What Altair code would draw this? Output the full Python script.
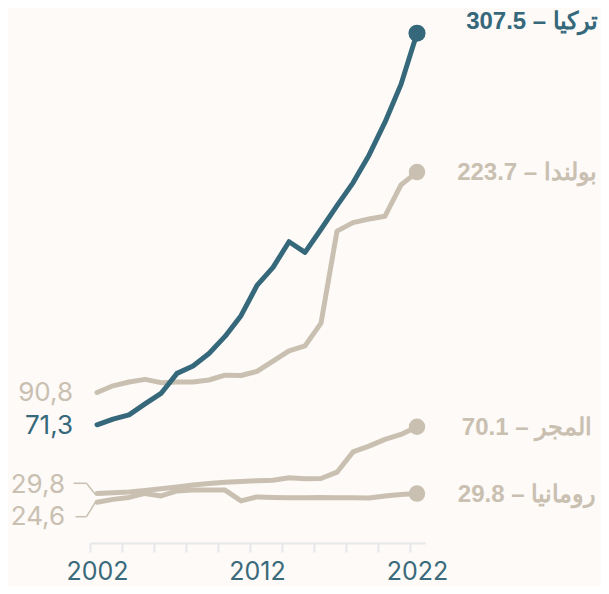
import altair as alt
import pandas as pd

# ---- data ----
years = list(range(2002, 2023))
codes = ["tr", "pl", "hu", "ro"]
names_ar = ["تركيا", "بولندا", "المجر", "رومانيا"]
turkey = [71.3, 74.7, 77.3, 83.9, 90.2, 102.3, 106.7, 114.3, 124.6, 137.1, 155.4,
          166.2, 181.7, 175.3, 189.2, 203.5, 217.2, 233.9, 253.8, 276.6, 307.5]
poland = [90.8, 94.8, 97.1, 98.7, 96.7, 97.1, 97.1, 98.3, 101.2, 101.0, 103.5,
          109.7, 115.9, 118.9, 132.6, 188.1, 193.2, 195.4, 197.1, 216.0, 223.7]
hungary = [29.8, 30.3, 30.8, 31.7, 32.7, 33.8, 35.0, 35.9, 36.7, 37.1, 37.5,
           37.9, 39.4, 38.8, 38.9, 42.7, 54.9, 58.4, 62.5, 65.5, 70.1]
romania = [24.6, 26.3, 27.5, 29.9, 28.4, 31.4, 32.0, 32.0, 31.9, 25.4, 27.8,
           27.5, 27.3, 27.3, 27.5, 27.3, 27.3, 27.1, 28.3, 29.2, 29.8]
tick_years = list(range(2002, 2023, 2))

series = [turkey, poland, hungary, romania]
rows = []
for code, name, vals in zip(codes, names_ar, series):
    for y, v in zip(years, vals):
        rows.append({"country": code, "name": name, "year": y, "value": v})
df = pd.DataFrame(rows)

end = df[df.year == years[-1]].copy()
end["label"] = end.apply(lambda r: f"{r['name']} – {r['value']:.1f}", axis=1)
start = df[df.year == years[0]].copy()
start["label"] = start["value"].map(lambda v: f"{v:.1f}".replace(".", ","))

TEAL = "#35687a"
BEIGE = "#c9c0b1"
BG = "#fdfaf7"
AXIS = "#e6e7e8"

xscale = alt.Scale(domain=[2001.56, 2022.5], nice=False, zero=False)
yscale = alt.Scale(domain=[0, 310], nice=False, zero=True)

xaxis = alt.Axis(values=tick_years, format="d",
                 labelExpr="datum.value % 10 == 2 ? datum.label : ''",
                 tickOffset=-7, labelOffset=7, labelFlush=False, labelOverlap=False,
                 domainColor=AXIS, domainWidth=2, tickColor=AXIS, tickWidth=2,
                 tickSize=9, labelFont="Inter", labelFontSize=25, labelColor="#3a6a7b",
                 labelPadding=7, grid=False, title=None)

X = alt.X("year:Q", scale=xscale, axis=xaxis)
Y = alt.Y("value:Q", scale=yscale, axis=None)
X2 = alt.X2("year")
Y2 = alt.Y2("value")

base = alt.Chart(df)

others_lines = base.transform_filter("datum.country != 'tr'").mark_line(
    color=BEIGE, strokeWidth=5, strokeCap="round", strokeJoin="round"
).encode(x=X, y=Y, detail="country:N")

tr_line = base.transform_filter("datum.country == 'tr'").mark_line(
    color=TEAL, strokeWidth=5, strokeCap="round", strokeJoin="round"
).encode(x=X, y=Y)

endc = alt.Chart(end)
others_dots = endc.transform_filter("datum.country != 'tr'").mark_circle(
    color=BEIGE, opacity=1, size=270).encode(x=X, y=Y)
tr_dot = endc.transform_filter("datum.country == 'tr'").mark_circle(
    color=TEAL, opacity=1, size=290).encode(x=X, y=Y)

others_lab = endc.transform_filter("datum.country != 'tr'").mark_text(
    align="center", baseline="middle", dx=110, dy=1, font="Liberation Sans",
    fontWeight="bold", fontSize=24, color=BEIGE
).encode(x=X, y=Y, text="label:N")
tr_lab = endc.transform_filter("datum.country == 'tr'").mark_text(
    align="center", baseline="middle", dx=115, dy=-11, font="Liberation Sans",
    fontWeight="bold", fontSize=24, color=TEAL
).encode(x=X, y=Y, text="label:N")

startc = alt.Chart(start)
left_tr = startc.transform_filter("datum.country == 'tr'").mark_text(
    align="right", baseline="middle", dx=-24, dy=1, font="Inter", fontSize=26,
    color=TEAL).encode(x=X, y=Y, text="label:N")
left_pl = startc.transform_filter("datum.country == 'pl'").mark_text(
    align="right", baseline="middle", dx=-24, dy=1, font="Inter", fontSize=26,
    color=BEIGE).encode(x=X, y=Y, text="label:N")
left_hu = startc.transform_filter("datum.country == 'hu'").mark_text(
    align="right", baseline="middle", dx=-32, dy=-9, font="Inter", fontSize=26,
    color=BEIGE).encode(x=X, y=Y, text="label:N")
left_ro = startc.transform_filter("datum.country == 'ro'").mark_text(
    align="right", baseline="middle", dx=-32, dy=15, font="Inter", fontSize=26,
    color=BEIGE).encode(x=X, y=Y, text="label:N")

hu_start = startc.transform_filter("datum.country == 'hu'")
ro_start = startc.transform_filter("datum.country == 'ro'")
conn = [
    hu_start.mark_rule(color=BEIGE, strokeWidth=1.5, xOffset=-23.5, x2Offset=-10.5,
                       yOffset=-10.3, y2Offset=-10.3).encode(x=X, x2=X2, y=Y, y2=Y2),
    hu_start.mark_rule(color=BEIGE, strokeWidth=1.5, xOffset=-10.5, x2Offset=-2,
                       yOffset=-10.3, y2Offset=0.5).encode(x=X, x2=X2, y=Y, y2=Y2),
    ro_start.mark_rule(color=BEIGE, strokeWidth=1.5, xOffset=-21.5, x2Offset=-10.5,
                       yOffset=14.5, y2Offset=14.5).encode(x=X, x2=X2, y=Y, y2=Y2),
    ro_start.mark_rule(color=BEIGE, strokeWidth=1.5, xOffset=-10.5, x2Offset=-2,
                       yOffset=14.5, y2Offset=0.5).encode(x=X, x2=X2, y=Y, y2=Y2),
]

chart = alt.layer(
    others_lines, tr_line, others_dots, tr_dot, others_lab, tr_lab,
    left_tr, left_pl, left_hu, left_ro, *conn
).properties(
    width=335, height=514,
    autosize=alt.AutoSizeParams(type="none"),
    padding={"left": 82, "top": 21, "right": 176, "bottom": 43},
    background=BG,
).configure_view(stroke=None)

chart.save("out.html", embed_options={"renderer": "svg", "actions": False})
